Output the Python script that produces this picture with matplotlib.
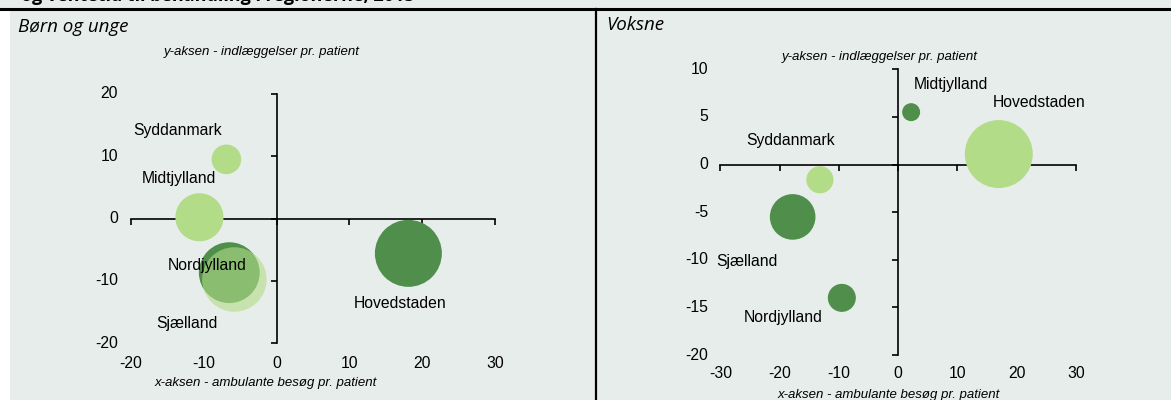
import numpy as np
import matplotlib
matplotlib.use("Agg")
import matplotlib.pyplot as plt
from matplotlib.patches import Rectangle
from matplotlib.lines import Line2D

# Data
regions_b = ["Syddanmark", "Midtjylland", "Nordjylland", "Sjælland", "Hovedstaden"]
amb_b = [-6.9, -10.6, -6.5, -5.8, 18.1]       # x: ambulante besøg pr. patient
indl_b = [9.5, 0.2, -8.7, -9.8, -5.6]         # y: indlæggelser pr. patient
size_b = [19, 50, 80, 90, 97]                  # relative bubble size (ventetid)

regions_v = ["Midtjylland", "Hovedstaden", "Syddanmark", "Sjælland", "Nordjylland"]
amb_v = [2.2, 17.0, -13.2, -17.8, -9.5]
indl_v = [5.5, 1.1, -1.6, -5.5, -14.0]
size_v = [7, 100, 16, 45, 17]

xticks_b = [-20, -10, 0, 10, 20, 30]
yticks_b = [-20, -10, 0, 10, 20]
xticks_v = [-30, -20, -10, 0, 10, 20, 30]
yticks_v = [-20, -15, -10, -5, 0, 5, 10]

DARK = "#4f8f4b"
LIGHT = "#b3dc88"
BG = "#e7edeb"

colors_b = [LIGHT, LIGHT, DARK, (179/255, 220/255, 136/255, 0.6), DARK]
colors_v = [DARK, LIGHT, LIGHT, DARK, DARK]

# label offsets in points (dx, dy) relative to bubble centre
offs_b = [(-35, 21), (-15, 28), (-16, 5), (-34, -32), (-6, -36)]
offs_v = [(29, 20), (29, 37), (-21, 28), (-33, -32), (-42, -14)]

W, H = 1171, 400
fig = plt.figure(figsize=(W / 100, H / 100), dpi=100)
fig.patch.set_facecolor(BG)

# white strip on the left, frame lines
fig.patches.append(Rectangle((0, 0), 10 / W, 1 - 10 / H, transform=fig.transFigure,
                             facecolor="white", edgecolor="none", zorder=0))
fig.lines.append(Line2D([0, 1], [1 - 9 / H] * 2, transform=fig.transFigure, color="black", lw=2.2))
fig.lines.append(Line2D([596 / W] * 2, [0, 1 - 9 / H], transform=fig.transFigure, color="black", lw=1.6))

fig.text(21 / W, 1 + 13 / H, "og ventetid til behandling i regionerne, 2015", ha="left", va="top",
         fontsize=13, fontweight="bold", family="Open Sans")
fig.text(18 / W, 1 - 27 / H, "Børn og unge", ha="left", va="center", fontsize=13.5,
         style="italic", family="Open Sans")
fig.text(606 / W, 1 - 25 / H, "Voksne", ha="left", va="center", fontsize=13.5,
         style="italic", family="Open Sans")

LBL = 11.3


def fig_axes(x0, x1, y0, y1):
    return fig.add_axes([x0 / W, 1 - y1 / H, (x1 - x0) / W, (y1 - y0) / H])


def bubble_panel(ax, xs, ys, sizes, colors, names, offs, xt, yt, ylab_dx, xlab_dy):
    ax.set_facecolor("none")
    ax.set_xlim(xt[0], xt[-1])
    ax.set_ylim(yt[0], yt[-1])
    r = 34 * np.sqrt(np.array(sizes) / 100.0)   # radius in px
    s = (2 * r * 0.72) ** 2
    ax.scatter(xs, ys, s=s, c=colors, edgecolors="none", zorder=3, clip_on=False)
    for x, y, n, (dx, dy) in zip(xs, ys, names, offs):
        ax.annotate(n, (x, y), xytext=(dx, dy), textcoords="offset points", ha="center",
                    va="center", fontsize=LBL, family="Liberation Sans", zorder=4)
    for side in ["top", "right"]:
        ax.spines[side].set_visible(False)
    ax.spines["left"].set_position(("data", 0))
    ax.spines["bottom"].set_position(("data", 0))
    for side in ["left", "bottom"]:
        ax.spines[side].set_linewidth(1.2)
    ax.set_xticks(xt)
    ax.set_yticks(yt)
    ax.tick_params(direction="out", length=4, width=1.2, labelleft=False, labelbottom=False)
    for v in yt:
        ax.annotate(str(v), (0, v), xycoords=ax.get_yaxis_transform(), xytext=(-ylab_dx, 0),
                    textcoords="offset pixels", ha="right", va="center", fontsize=LBL,
                    family="Liberation Sans")
    for v in xt:
        ax.annotate(str(v), (v, 0), xycoords=ax.get_xaxis_transform(), xytext=(0, -xlab_dy),
                    textcoords="offset pixels", ha="center", va="center", fontsize=LBL,
                    family="Liberation Sans")


ax1 = fig_axes(131, 495, 94, 343)
bubble_panel(ax1, amb_b, indl_b, size_b, colors_b, regions_b, offs_b, xticks_b, yticks_b, 13, 20)
fig.text(262 / W, 1 - 52 / H, "y-aksen - indlæggelser pr. patient", ha="center", va="center",
         fontsize=9.5, style="italic", family="Liberation Sans")
fig.text(266 / W, 1 - 383 / H, "x-aksen - ambulante besøg pr. patient", ha="center", va="center",
         fontsize=9.5, style="italic", family="Liberation Sans")

ax2 = fig_axes(720.4, 1075.8, 69.3, 355)
bubble_panel(ax2, amb_v, indl_v, size_v, colors_v, regions_v, offs_v, xticks_v, yticks_v, 12, 19)
fig.text(880 / W, 1 - 57 / H, "y-aksen - indlæggelser pr. patient", ha="center", va="center",
         fontsize=9.5, style="italic", family="Liberation Sans")
fig.text(889 / W, 1 - 395 / H, "x-aksen - ambulante besøg pr. patient", ha="center", va="center",
         fontsize=9.5, style="italic", family="Liberation Sans")

fig.savefig("out.png", dpi=100, facecolor=fig.get_facecolor())
